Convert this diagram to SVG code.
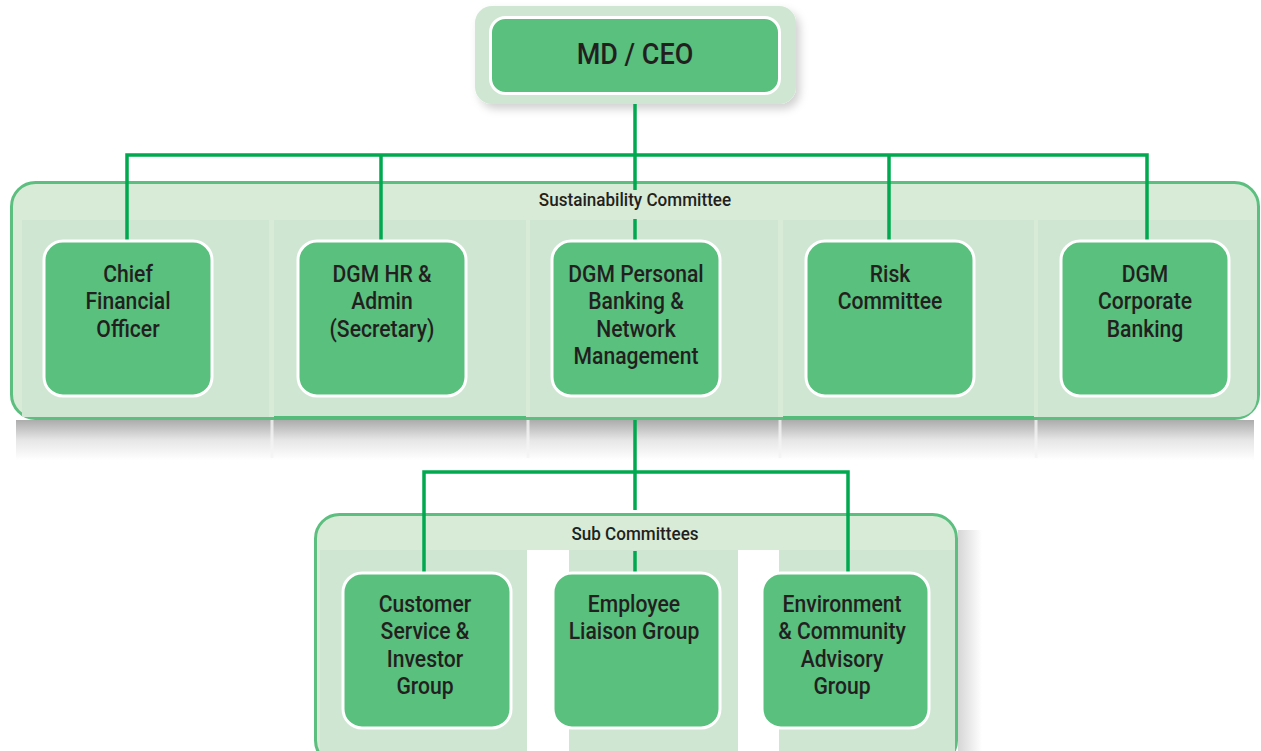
<svg xmlns="http://www.w3.org/2000/svg" width="1261" height="751" viewBox="0 0 1261 751">
  <defs>
    <style>
      .lbl { font-family: Roboto, "Liberation Sans", Arial, sans-serif; font-weight: 500; fill: #231f20; text-anchor: middle; }
      .node { font-size: 23px; }
      .hdr { font-size: 18px; }
      .box { fill: #59c07e; stroke: #ffffff; stroke-width: 3; }
      .panel { fill: #d8ebd6; stroke: #5cbf7f; stroke-width: 3; }
      .col { fill: #cfe6d3; }
      .wire { fill: none; stroke: #00a94f; stroke-width: 3.5; }
    </style>
    <linearGradient id="shadeDown" x1="0" y1="0" x2="0" y2="1">
      <stop offset="0" stop-color="#acacac"/>
      <stop offset="0.5" stop-color="#e6e6e6"/>
      <stop offset="1" stop-color="#ffffff"/>
    </linearGradient>
    <linearGradient id="shadeRight" x1="0" y1="0" x2="1" y2="0">
      <stop offset="0" stop-color="#c4c4c4"/>
      <stop offset="1" stop-color="#ffffff"/>
    </linearGradient>
    <filter id="soft" x="-10%" y="-10%" width="125%" height="140%">
      <feDropShadow dx="4" dy="5" stdDeviation="4" flood-color="#000000" flood-opacity="0.18"/>
    </filter>
  </defs>

  <rect width="1261" height="751" fill="#ffffff"/>

  <!-- top-level box -->
  <g id="md-ceo">
    <rect x="475" y="6" width="321" height="98" rx="17" fill="#cfe7d2" filter="url(#soft)"/>
    <rect class="box" x="490.5" y="17.5" width="289" height="76" rx="15"/>
    <g transform="translate(635 0) scale(0.9 1)">
      <text class="lbl" x="0" y="64" font-size="30">MD / CEO</text>
    </g>
  </g>

  <!-- shadow under the committee panel -->
  <rect x="16" y="420" width="1238" height="40" fill="url(#shadeDown)"/>
  <g stroke="#f4f4f4" stroke-width="3" opacity="0.8">
    <line x1="272" y1="420" x2="272" y2="458"/>
    <line x1="528" y1="420" x2="528" y2="458"/>
    <line x1="780" y1="420" x2="780" y2="458"/>
    <line x1="1036" y1="420" x2="1036" y2="458"/>
  </g>

  <!-- Sustainability Committee panel -->
  <g id="sustainability-committee">
    <rect class="panel" x="11.5" y="182.5" width="1247" height="236" rx="24"/>
    <path class="col" d="M22 220 H269 V417 H22 Z"/>
    <rect class="col" x="274" y="220" width="252" height="197"/>
    <rect class="col" x="530" y="220" width="248" height="197"/>
    <rect class="col" x="783" y="220" width="251" height="197"/>
    <path class="col" d="M1038 220 H1257 V395 Q1257 417 1235 417 H1038 Z"/>
    <rect x="274" y="416" width="252" height="4" fill="#55bb7a"/>
    <rect x="783" y="416" width="251" height="4" fill="#55bb7a"/>
    <g transform="translate(635 0) scale(0.95 1)">
      <text class="lbl hdr" x="0" y="206">Sustainability Committee</text>
    </g>
  </g>

  <!-- Sub Committees panel -->
  <g id="sub-committees">
    <rect x="958" y="530" width="24" height="221" fill="url(#shadeRight)" opacity="0.7"/>
    <rect class="panel" x="315.5" y="514.5" width="641" height="250" rx="24"/>
    <rect class="col" x="320" y="550" width="207" height="201"/>
    <rect x="527" y="550" width="42" height="201" fill="#ffffff"/>
    <rect class="col" x="569" y="550" width="169" height="201"/>
    <rect x="738" y="550" width="41" height="201" fill="#ffffff"/>
    <path class="col" d="M779 550 H955 V751 H779 Z"/>
    <g transform="translate(635 0) scale(0.95 1)">
      <text class="lbl hdr" x="0" y="540">Sub Committees</text>
    </g>
  </g>

  <!-- connectors -->
  <g id="connectors" class="wire">
    <path d="M635 104 V190"/>
    <path d="M635 219 V240"/>
    <path d="M127 240 V155 H1147 V240"/>
    <path d="M381 155 V240"/>
    <path d="M889 155 V240"/>
    <path d="M635 420 V510"/>
    <path d="M635 551 V573"/>
    <path d="M424 573 V472 H848 V573"/>
  </g>

  <!-- committee members -->
  <g id="cfo">
    <rect class="box" x="44" y="241" width="168" height="155" rx="19"/>
    <g class="lbl node" transform="translate(128 0) scale(0.92 1)">
      <text x="0" y="282">Chief</text>
      <text x="0" y="309.5">Financial</text>
      <text x="0" y="337">Officer</text>
    </g>
  </g>
  <g id="dgm-hr">
    <rect class="box" x="298" y="241" width="168" height="155" rx="19"/>
    <g class="lbl node" transform="translate(382 0) scale(0.92 1)">
      <text x="0" y="282">DGM HR &amp;</text>
      <text x="0" y="309.5">Admin</text>
      <text x="0" y="337">(Secretary)</text>
    </g>
  </g>
  <g id="dgm-personal">
    <rect class="box" x="552" y="241" width="168" height="155" rx="19"/>
    <g class="lbl node" transform="translate(636 0) scale(0.92 1)">
      <text x="0" y="282">DGM Personal</text>
      <text x="0" y="309.5">Banking &amp;</text>
      <text x="0" y="337">Network</text>
      <text x="0" y="364.5">Management</text>
    </g>
  </g>
  <g id="risk">
    <rect class="box" x="806" y="241" width="168" height="155" rx="19"/>
    <g class="lbl node" transform="translate(890 0) scale(0.92 1)">
      <text x="0" y="282">Risk</text>
      <text x="0" y="309.5">Committee</text>
    </g>
  </g>
  <g id="dgm-corporate">
    <rect class="box" x="1061" y="241" width="168" height="155" rx="19"/>
    <g class="lbl node" transform="translate(1145 0) scale(0.92 1)">
      <text x="0" y="282">DGM</text>
      <text x="0" y="309.5">Corporate</text>
      <text x="0" y="337">Banking</text>
    </g>
  </g>

  <!-- sub committee groups -->
  <g id="customer-service">
    <rect class="box" x="343" y="573" width="168" height="155" rx="19"/>
    <g class="lbl node" transform="translate(425 0) scale(0.92 1)">
      <text x="0" y="612">Customer</text>
      <text x="0" y="639.5">Service &amp;</text>
      <text x="0" y="667">Investor</text>
      <text x="0" y="694.5">Group</text>
    </g>
  </g>
  <g id="employee-liaison">
    <rect class="box" x="553" y="573" width="167" height="155" rx="19"/>
    <g class="lbl node" transform="translate(634 0) scale(0.92 1)">
      <text x="0" y="612">Employee</text>
      <text x="0" y="639.5">Liaison Group</text>
    </g>
  </g>
  <g id="environment-community">
    <rect class="box" x="762" y="573" width="167" height="155" rx="19"/>
    <g class="lbl node" transform="translate(842 0) scale(0.92 1)">
      <text x="0" y="612">Environment</text>
      <text x="0" y="639.5">&amp; Community</text>
      <text x="0" y="667">Advisory</text>
      <text x="0" y="694.5">Group</text>
    </g>
  </g>
</svg>
